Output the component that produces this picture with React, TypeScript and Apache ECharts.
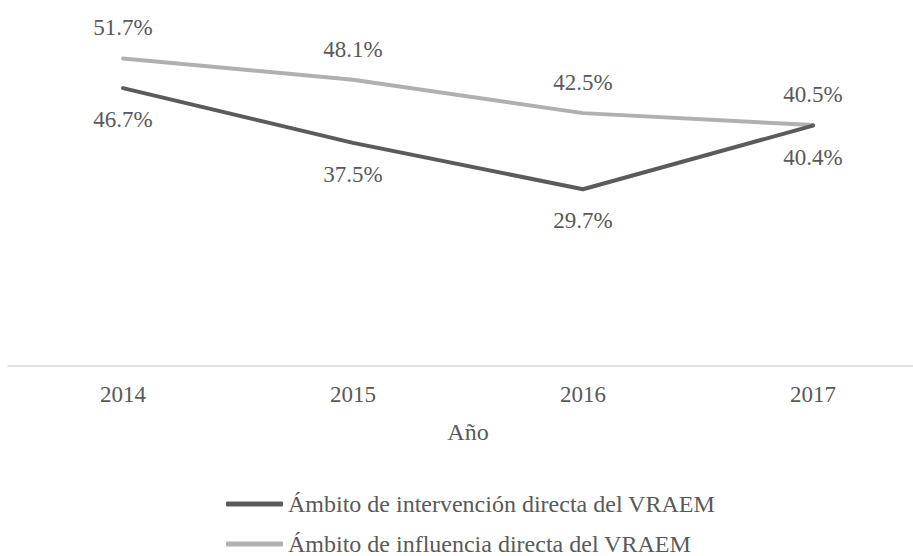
import React, { useEffect, useRef } from "react";
import * as echarts from "echarts";

const years = ["2014", "2015", "2016", "2017"];
const intervencion = [46.7, 37.5, 29.7, 40.4];
const influencia = [51.7, 48.1, 42.5, 40.5];
const seriesNames = [
  "Ámbito de intervención directa del VRAEM",
  "Ámbito de influencia directa del VRAEM",
];
const axisName = "Año";

const FONT = "'Liberation Serif', 'Times New Roman', serif";
const TEXT = "#595959";
const DARK = "#5b5b5b";
const LIGHT = "#b0b0b0";

export default function App() {
  const ref = useRef<HTMLDivElement>(null);
  useEffect(() => {
    if (!ref.current) return;
    const chart = echarts.init(ref.current, undefined, { renderer: "svg" });
    const legendCommon = {
      orient: "horizontal",
      left: 226,
      itemWidth: 57,
      itemHeight: 5,
      padding: 0,
      icon: "roundRect",
      textStyle: { color: TEXT, fontSize: 24, fontFamily: FONT },
    };
    const labelCommon = {
      show: true,
      color: TEXT,
      fontSize: 23,
      fontFamily: FONT,
      formatter: (p: any) => p.value.toFixed(1) + "%",
    };
    chart.setOption({
      animation: false,
      textStyle: { fontFamily: FONT, color: TEXT },
      grid: { left: 8, top: 9, width: 920, height: 357 },
      xAxis: {
        type: "category",
        data: years,
        boundaryGap: true,
        axisLine: { lineStyle: { color: "#d9d9d9", width: 1.5 } },
        axisTick: { show: false },
        axisLabel: { color: TEXT, fontSize: 23, fontFamily: FONT, margin: 17 },
        name: axisName,
        nameLocation: "middle",
        nameGap: 54,
        nameTextStyle: { color: TEXT, fontSize: 24, fontFamily: FONT },
      },
      yAxis: {
        type: "value",
        min: 0,
        max: 60,
        show: false,
        splitLine: { show: false },
      },
      legend: [
        { ...legendCommon, top: 492, data: [seriesNames[0]] },
        { ...legendCommon, top: 532, data: [seriesNames[1]] },
      ],
      series: [
        {
          name: seriesNames[0],
          type: "line",
          data: intervencion,
          showSymbol: true,
          symbol: "circle",
          symbolSize: 0.1,
          itemStyle: { color: DARK },
          lineStyle: { width: 4, color: DARK, cap: "round", join: "round" },
          label: { ...labelCommon, position: "bottom", distance: 20 },
          z: 3,
        },
        {
          name: seriesNames[1],
          type: "line",
          data: influencia,
          showSymbol: true,
          symbol: "circle",
          symbolSize: 0.1,
          itemStyle: { color: LIGHT },
          lineStyle: { width: 4, color: LIGHT, cap: "round", join: "round" },
          label: { ...labelCommon, position: "top", distance: 19 },
          z: 2,
        },
      ],
    });
    return () => chart.dispose();
  }, []);
  return (
    <div
      style={{
        position: "fixed",
        left: 0,
        top: 0,
        width: 913,
        height: 556,
        overflow: "hidden",
        background: "#fff",
      }}
    >
      <div ref={ref} style={{ width: 940, height: 556 }} />
    </div>
  );
}
